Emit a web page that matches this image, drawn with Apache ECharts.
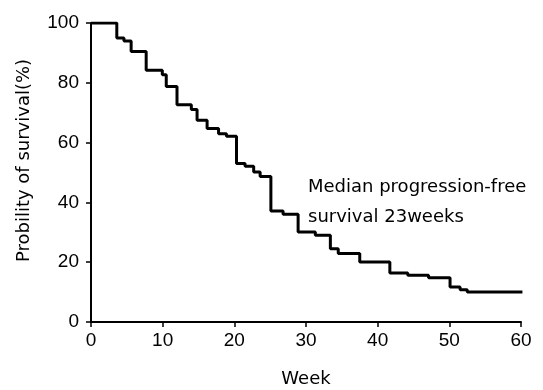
<!DOCTYPE html>
<html>
<head>
<meta charset="utf-8">
<script src="https://cdn.jsdelivr.net/npm/echarts@6/dist/echarts.min.js"></script>
<style>
  html, body { margin: 0; padding: 0; background: #fff; }
  #chart { width: 543px; height: 390px; }
</style>
</head>
<body>
<div id="chart"></div>
<script>
// Kaplan-Meier steps: week when the drop happens, survival (%) after it
const weeks = [0, 3.6, 4.6, 5.6, 7.7, 9.95, 10.5, 12.0, 14.0, 14.8, 16.2, 17.8, 18.9, 20.3, 21.5, 22.7, 23.6, 25.1, 26.8, 28.9, 31.3, 33.4, 34.5, 37.5, 41.7, 44.2, 47.1, 50.1, 51.5, 52.5, 60.2];
const survival = [100, 95.0, 94.0, 90.5, 84.2, 82.7, 78.8, 72.7, 71.1, 67.5, 64.7, 63.0, 62.1, 53.0, 52.1, 50.2, 48.7, 37.1, 36.0, 30.1, 29.0, 24.5, 22.9, 20.1, 16.4, 15.6, 14.8, 11.7, 10.8, 10.0, 10.0];
const xTicks = [0, 10, 20, 30, 40, 50, 60];
const yTicks = [0, 20, 40, 60, 80, 100];
const noteLines = ['Median progression-free', 'survival 23weeks'];

const chart = echarts.init(document.getElementById('chart'), null, { renderer: 'canvas' });

const axisFont = { color: '#000', fontFamily: 'Liberation Sans', fontSize: 19 };
const blackLine = { show: true, lineStyle: { color: '#000', width: 2 } };

chart.setOption({
  animation: false,
  backgroundColor: '#fff',
  grid: { left: 91, right: 22, top: 23, bottom: 68, outerBoundsMode: 'none' },
  xAxis: {
    type: 'value',
    min: xTicks[0],
    max: xTicks[xTicks.length - 1],
    interval: 10,
    name: 'Week',
    nameLocation: 'middle',
    nameGap: 48,
    nameTextStyle: { color: '#000', fontFamily: 'DejaVu Sans', fontSize: 18 },
    axisLine: blackLine,
    axisTick: { show: true, length: 5, lineStyle: { color: '#000', width: 1.5 } },
    axisLabel: Object.assign({ margin: 9 }, axisFont),
    splitLine: { show: false }
  },
  yAxis: {
    type: 'value',
    min: yTicks[0],
    max: yTicks[yTicks.length - 1],
    interval: 20,
    name: 'Probility of survival(%)',
    nameLocation: 'middle',
    nameGap: 58,
    nameRotate: 90,
    nameTextStyle: { color: '#000', fontFamily: 'DejaVu Sans', fontSize: 18, padding: [0, 0, 0, 24] },
    axisLine: blackLine,
    axisTick: { show: true, length: 5, lineStyle: { color: '#000', width: 1.5 } },
    axisLabel: Object.assign({ margin: 12 }, axisFont),
    splitLine: { show: false }
  },
  graphic: [{
    type: 'text',
    left: 308,
    top: 172,
    style: {
      text: noteLines.join('\n'),
      fill: '#000',
      font: '18px "DejaVu Sans"',
      lineHeight: 30
    }
  }],
  series: [{
    type: 'line',
    step: 'end',
    showSymbol: false,
    data: weeks.map((w, i) => [w, survival[i]]),
    lineStyle: { color: '#000', width: 3 }
  }]
});
</script>
</body>
</html>
